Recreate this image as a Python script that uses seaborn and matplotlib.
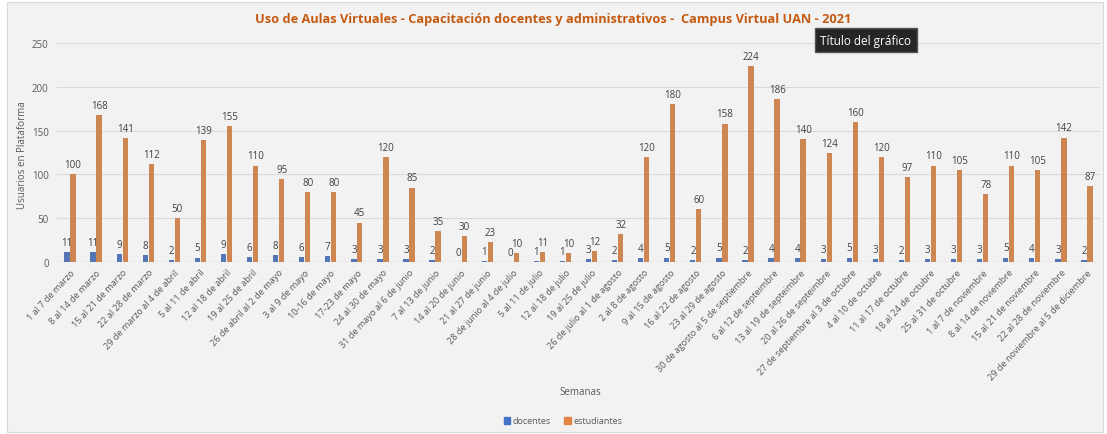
import pandas as pd
import matplotlib.pyplot as plt
import seaborn as sns
from matplotlib.patches import Rectangle


semanas = ['1 al 7 de marzo', '8 al 14 de marzo', '15 al 21 de marzo', '22 al 28 de marzo',
           '29 de marzo al 4 de abril', '5 al 11 de abril', '12 al 18 de abril', '19 al 25 de abril',
           '26 de abril al 2 de mayo', '3 al 9 de mayo', '10-16 de mayo', '17-23 de mayo',
           '24 al 30 de mayo', '31 de mayo al 6 de junio', '7 al 13 de junio', '14 al 20 de junio',
           '21 al 27 de junio', '28 de junio al 4 de julio', '5 al 11 de julio', '12 al 18 de julio',
           '19 al 25 de julio', '26 de julio al 1 de agosto', '2 al 8 de agosto', '9 al 15 de agosto',
           '16 al 22 de agosto', '23 al 29 de agosto', '30 de agosto al 5 de septiembre',
           '6 al 12 de septeimbre', '13 al 19 de septeimbre', '20 al 26 de septeimbre',
           '27 de septiembre al 3 de octubre', '4 al 10 de octubre', '11 al 17 de octubre',
           '18 al 24 de octubre', '25 al 31 de octubre', '1 al 7 de noviembre', '8 al 14 de noviembre',
           '15 al 21 de noviembre', '22 al 28 de noviembre', '29 de noviembre al 5 de diciembre']

docentes = [11, 11, 9, 8, 2, 5, 9, 6, 8, 6, 7, 3, 3, 3, 2, 0, 1, 0, 1, 1,
            3, 2, 4, 5, 2, 5, 2, 4, 4, 3, 5, 3, 2, 3, 3, 3, 5, 4, 3, 2]
estudiantes = [100, 168, 141, 112, 50, 139, 155, 110, 95, 80, 80, 45, 120, 85, 35, 30, 23, 10, 11, 10,
               12, 32, 120, 180, 60, 158, 224, 186, 140, 124, 160, 120, 97, 110, 105, 78, 110, 105, 142, 87]

df = pd.DataFrame({'Semana': semanas * 2,
                   'Usuarios': docentes + estudiantes,
                   'Grupo': ['docentes'] * len(semanas) + ['estudiantes'] * len(semanas)})

bg = '#f2f2f2'
txt = '#595959'
plt.rcParams['font.family'] = ['Open Sans', 'DejaVu Sans']

fig = plt.figure(figsize=(11.07, 4.35), dpi=100, facecolor='white')
fig.patches.append(Rectangle((7 / 1107, 0.005), 1 - 11 / 1107, 1 - 3 / 435 - 0.005,
                             transform=fig.transFigure, facecolor=bg, edgecolor='#d9d9d9',
                             lw=0.8, zorder=-1))
ax = fig.add_axes([57 / 1107, 1 - 263 / 435, (1100 - 57) / 1107, (263 - 44) / 435])
ax.set_facecolor(bg)

sns.barplot(data=df, x='Semana', y='Usuarios', hue='Grupo', order=semanas,
            palette={'docentes': '#4472c4', 'estudiantes': '#e2843f'},
            width=0.46, gap=0.12, ax=ax, legend=False)

for c in ax.containers:
    ax.bar_label(c, fontsize=7, color='#404040', padding=3)

ax.set_ylim(0, 250)
ax.set_xlim(-0.5, len(semanas) - 0.5)
ax.set_yticks([0, 50, 100, 150, 200, 250])
ax.grid(axis='y', color='#d9d9d9', lw=0.8)
ax.set_axisbelow(True)
for s in ax.spines.values():
    s.set_visible(False)
ax.axhline(0, color='#d0d0d0', lw=1, zorder=0)
ax.tick_params(axis='both', length=0, labelcolor=txt)
ax.tick_params(axis='y', pad=6, labelsize=7)
ax.tick_params(axis='x', labelsize=6.6, pad=4)
plt.setp(ax.get_xticklabels(), rotation=47, ha='right', rotation_mode='anchor')
ax.set_xlabel('')
ax.set_ylabel('')

fig.text(23 / 1107, 1 - 155 / 435, 'Usuarios en Plataforma', rotation=90, ha='center', va='center',
         fontsize=7, color=txt)
fig.text(580 / 1107, 1 - 393 / 435, 'Semanas', ha='center', va='center', fontsize=7, color=txt)
fig.text(553 / 1107, 1 - 19 / 435,
         'Uso de Aulas Virtuales - Capacitación docentes y administrativos -  Campus Virtual UAN - 2021',
         ha='center', va='center', fontsize=9.2, fontweight='bold', color='#c55a11')
fig.text(866 / 1107, 1 - 41 / 435, 'Título del gráfico', ha='center', va='center', fontsize=8.5,
         color='white', bbox=dict(boxstyle='square,pad=0.45', fc='#262626', ec='#555555'))

handles = [Rectangle((0, 0), 1, 1, color='#4472c4'), Rectangle((0, 0), 1, 1, color='#e2843f')]
fig.legend(handles, ['docentes', 'estudiantes'], loc='center', bbox_to_anchor=(563 / 1107, 1 - 422 / 435),
           ncol=2, frameon=False, fontsize=6.5, handlelength=0.7, handleheight=0.7,
           handletextpad=0.3, columnspacing=1.5, labelcolor=txt)

fig.savefig('out.png', dpi=100, facecolor=fig.get_facecolor())
